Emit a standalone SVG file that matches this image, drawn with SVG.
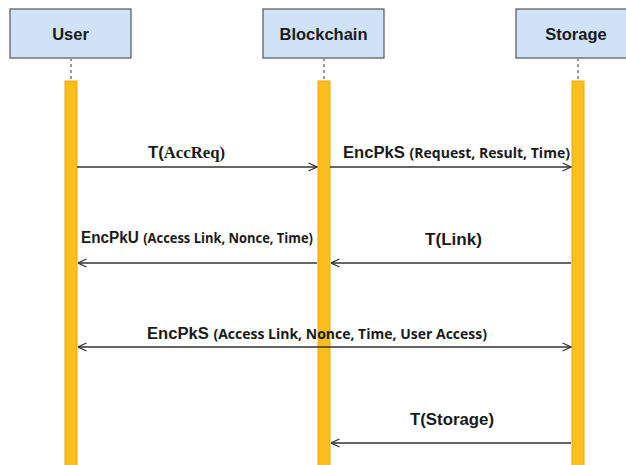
<svg xmlns="http://www.w3.org/2000/svg" width="626" height="465" viewBox="0 0 626 465">
<style>
.box{fill:#cfe2f7;stroke:#555;stroke-width:1.2}
.name{font-family:"Liberation Sans",Arial,sans-serif;font-weight:bold;font-size:16.5px;fill:#1a1a1a;text-anchor:middle}
.life{stroke:#999;stroke-width:2;stroke-dasharray:3,3}
.bar{fill:#fbbf1d;stroke:#f2a60c;stroke-width:1}
.msg{stroke:#333;stroke-width:1.3;fill:none}
.lbl{font-family:"Liberation Sans",Arial,sans-serif;font-weight:bold;font-size:16px;fill:#1a1a1a}
.sub{font-family:"Open Sans","Liberation Sans",sans-serif;font-weight:bold;font-size:13.5px}
.serif{font-family:"Liberation Serif","Times New Roman",serif;font-weight:bold}
</style>
<defs>
<marker id="ah" viewBox="0 0 10 10" refX="9.5" refY="5" markerWidth="10" markerHeight="10" markerUnits="userSpaceOnUse" orient="auto-start-reverse">
<path d="M1,1 L9.5,5 L1,9" fill="none" stroke="#333" stroke-width="1.3"/>
</marker>
</defs>
<rect width="626" height="465" fill="#fff"/>
<g id="user">
<rect class="box" x="10" y="9" width="121" height="49"/>
<text class="name" x="70.5" y="40">User</text>
<line class="life" x1="71" y1="58" x2="71" y2="81"/>
<rect class="bar" x="65" y="81" width="12" height="390"/>
</g>
<g id="blockchain">
<rect class="box" x="263" y="9" width="121" height="49"/>
<text class="name" x="323.5" y="40">Blockchain</text>
<line class="life" x1="324" y1="58" x2="324" y2="81"/>
<rect class="bar" x="318" y="81" width="12" height="390"/>
</g>
<g id="storage">
<rect class="box" x="516" y="9" width="121" height="49"/>
<text class="name" x="576" y="40">Storage</text>
<line class="life" x1="578" y1="58" x2="578" y2="81"/>
<rect class="bar" x="572" y="81" width="12" height="390"/>
</g>
<g id="connectors">
<line class="msg" x1="77" y1="167" x2="317" y2="167" marker-end="url(#ah)"/>
<line class="msg" x1="330" y1="167" x2="571" y2="167" marker-end="url(#ah)"/>
<line class="msg" x1="317" y1="263" x2="78" y2="263" marker-end="url(#ah)"/>
<line class="msg" x1="571" y1="263" x2="331" y2="263" marker-end="url(#ah)"/>
<line class="msg" x1="78" y1="347" x2="571" y2="347" marker-start="url(#ah)" marker-end="url(#ah)"/>
<line class="msg" x1="571" y1="443" x2="331" y2="443" marker-end="url(#ah)"/>
</g>
<g id="labels">
<text class="lbl" x="148" y="158" textLength="77" lengthAdjust="spacingAndGlyphs">T(<tspan class="serif">AccReq)</tspan></text>
<text class="lbl" x="343" y="158" textLength="227" lengthAdjust="spacingAndGlyphs">EncPkS <tspan class="sub">(Request, Result, Time)</tspan></text>
<text class="lbl" x="81" y="243" textLength="232" lengthAdjust="spacingAndGlyphs">EncPkU <tspan class="sub">(Access Link, Nonce, Time)</tspan></text>
<text class="lbl" x="425" y="245" textLength="57" lengthAdjust="spacingAndGlyphs">T(Link)</text>
<text class="lbl" x="147" y="339" textLength="340" lengthAdjust="spacingAndGlyphs">EncPkS <tspan class="sub">(Access Link, Nonce, Time, User Access)</tspan></text>
<text class="lbl" x="410" y="425" textLength="84" lengthAdjust="spacingAndGlyphs">T(Storage)</text>
</g>
</svg>
